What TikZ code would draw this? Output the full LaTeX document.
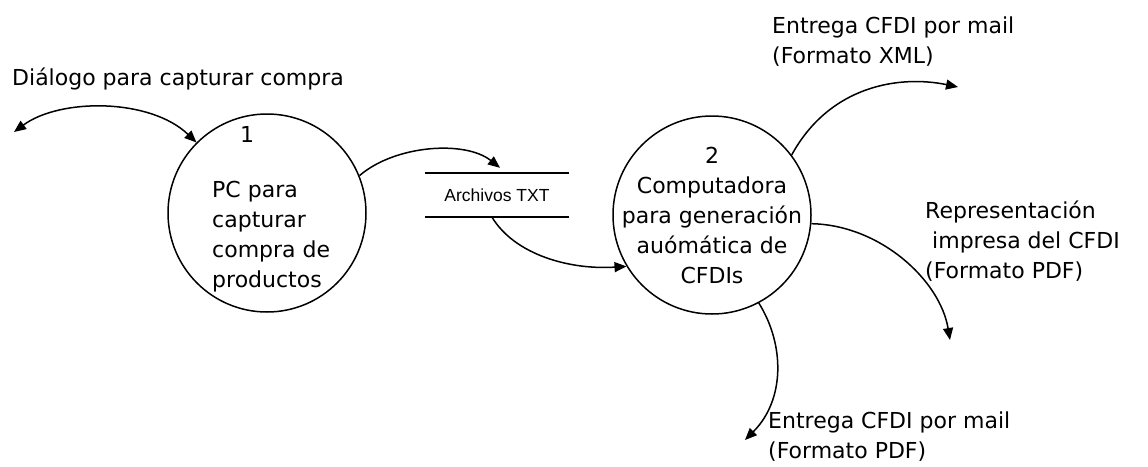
\documentclass[tikz,border=0pt]{standalone}
\usepackage{fontspec}
\setmainfont{DejaVu Sans}
\newfontfamily\arialf{Liberation Sans}
\usetikzlibrary{arrows.meta}
\begin{document}
\begin{tikzpicture}[x=1pt,y=-1pt,
  proc/.style={circle,draw,line width=1.5pt,minimum size=198pt,inner sep=0pt},
  lbl/.style={font=\fontsize{22}{30}\selectfont,inner sep=0pt,align=left,anchor=base west},
  ctr/.style={font=\fontsize{22}{30}\selectfont,inner sep=0pt,align=center,anchor=base},
  flow/.style={line width=1.5pt,-{Triangle[length=12pt,width=10pt]}},
  biflow/.style={line width=1.5pt,{Triangle[length=12pt,width=10pt]}-{Triangle[length=12pt,width=10pt]}},
]
\useasboundingbox (0,0) rectangle (1148,466);
% processes
\node[proc] (c1) at (267,213) {};
\node[proc] (c2) at (712,215) {};
\node[ctr] (n1) at (247,142) {1};
\node[lbl] (t1) at (212,287) {PC para\\capturar\\compra de\\productos};
\node[ctr] (t2) at (712,283) {2\\Computadora\\para generación\\auómática de\\CFDIs};
% data store
\node[minimum width=144pt,minimum height=44pt,inner sep=0pt,font=\arialf\fontsize{17.5}{20}\selectfont] (store) at (497,195) {Archivos TXT};
\draw[line width=1.5pt] (store.north west) -- (store.north east);
\draw[line width=1.5pt] (store.south west) -- (store.south east);
% free ends
\coordinate (ext1) at (14,132);
\coordinate (sin) at ([xshift=3pt,yshift=5pt]store.north);
\coordinate (sout) at ([xshift=-5pt]store.south);
\coordinate (xml) at (958,87);
\coordinate (repr) at (950,340);
\coordinate (pdf) at (745,440);
% labels
\node[lbl] (ldlg) at (12,85) {Diálogo para capturar compra};
\node[lbl] (lxml) at (772,63) {Entrega CFDI por mail\\(Formato XML)};
\node[lbl] (lrep) at (925,278) {Representación\\\hspace{7pt}impresa del CFDI\\(Formato PDF)};
\node[lbl] (lpdf) at (768,458) {Entrega CFDI por mail\\(Formato PDF)};
% flows
\draw[biflow] (ext1) .. controls (60,98) and (150,98) .. (c1.135);
\draw[flow] (c1.22) .. controls (395,145) and (465,140) .. (sin);
\draw[flow] (sout) .. controls (515,255) and (570,270) .. (c2.211);
\draw[flow] (c2.37) .. controls (830,85) and (900,75) .. (xml);
\draw[flow] (c2.-5) .. controls (880,225) and (940,280) .. (repr);
\draw[flow] (c2.-62) .. controls (785,345) and (785,400) .. (pdf);
\end{tikzpicture}
\end{document}
